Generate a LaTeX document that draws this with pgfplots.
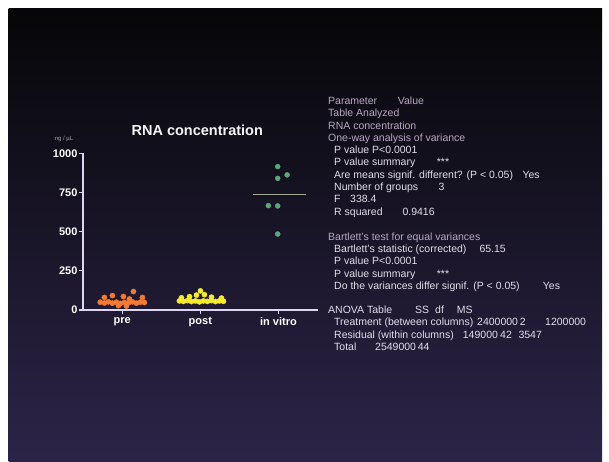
\documentclass[border=0pt]{standalone}
\usepackage{pgfplots}
\pgfplotsset{compat=1.18}
\usepackage{fontspec}
\setmainfont{Liberation Sans}
\definecolor{bgtop}{HTML}{060608}
\definecolor{bgmid}{HTML}{141222}
\definecolor{bgbot}{HTML}{2C2448}
\definecolor{axiscol}{HTML}{DCD6F2}
\definecolor{precol}{HTML}{F27A32}
\definecolor{postcol}{HTML}{F6EA2C}
\definecolor{vitrocol}{HTML}{58A878}
\definecolor{meancol}{HTML}{A0AC98}
\definecolor{hdcol}{HTML}{B8A8C4}
\definecolor{txcol}{HTML}{E2DEEA}
\newcommand{\sfont}{\fontsize{10.5}{12}\selectfont}
\begin{document}
\begin{tikzpicture}[x=1pt,y=1pt]
\fill[white] (0,0) rectangle (609,461);
\shade[top color=bgtop, middle color=bgmid, bottom color=bgbot] (8.5,0) rectangle (602,452.5);
\coordinate (A) at (83pt,151pt);
\begin{axis}[
  at={(A)}, anchor=south west, scale only axis,
  width=234.6pt, height=156.7pt,
  xmin=-0.5, xmax=2.5, ymin=0, ymax=1000,
  axis x line=bottom, axis y line=left,
  axis line style={draw=axiscol, line width=1.4pt, -},
  xtick={0,1,2}, xticklabels={pre,post,in vitro},
  ytick={0,250,500,750,1000},
  tick align=outside, major tick length=4pt,
  every tick/.style={draw=axiscol, line width=1.2pt},
  ticklabel style={font=\bfseries\fontsize{11}{13}\selectfont, text=white},
  /pgf/number format/assume math mode=true,
  /pgf/number format/1000 sep={},
  yticklabel style={xshift=2pt},
  clip=false,
]
% pre
\addplot[only marks, mark=*, mark size=2.6pt, mark options={draw=precol, fill=precol}] coordinates {
(-0.280,50) (-0.226,45) (-0.175,52) (-0.124,44) (-0.073,50) (-0.022,42)
(0.029,48) (0.081,46) (0.132,52) (0.183,44) (0.234,50) (0.285,48)
(-0.047,28) (0.055,25)
(-0.226,80) (-0.124,92) (0.017,86) (0.260,80)
(0.145,118) (0.093,70)
};
% post
\addplot[only marks, mark=*, mark size=2.6pt, mark options={draw=postcol, fill=postcol}] coordinates {
(0.733,58) (0.784,55) (0.836,60) (0.887,54) (0.938,58) (0.989,52)
(1.040,58) (1.091,55) (1.143,60) (1.194,54) (1.245,58) (1.296,56)
(0.759,78) (0.862,85) (0.951,95) (1.002,122) (1.053,98) (1.143,82) (1.271,76)
};
% in vitro
\addplot[only marks, mark=*, mark size=2.5pt, mark options={draw=vitrocol, fill=vitrocol}] coordinates {
(1.99,915) (2.11,862) (1.99,840) (1.87,666) (1.99,664) (1.99,485)
};
\addplot[meancol, line width=1pt] coordinates {(1.68,740) (2.35,740)};
\end{axis}
% title and unit
\node[font=\bfseries\fontsize{14.5}{16}\selectfont, text=white!92!gray] at (197.3,330.2) {RNA concentration};
\node[font=\fontsize{6}{7}\selectfont, text=gray!70] at (64,321.7) {ng / µL};
% statistics text
\begin{scope}[every node/.style={anchor=base west, inner sep=0, font=\sfont}]
\node[text=hdcol] at (328,356.5) {Parameter};
\node[text=hdcol] at (397.7,356.5) {Value};
\node[text=hdcol] at (328,344.2) {Table Analyzed};
\node[text=hdcol] at (328,331.9) {RNA concentration};
\node[text=hdcol] at (328,319.6) {One-way analysis of variance};
\node[text=txcol] at (334,307.3) {P value P<0.0001};
\node[text=txcol] at (334,295.0) {P value summary};
\node[text=txcol] at (436.7,295.0) {***};
\node[text=txcol] at (334,282.7) {Are means signif. different? (P < 0.05)};
\node[text=txcol] at (522.3,282.7) {Yes};
\node[text=txcol] at (334,270.4) {Number of groups};
\node[text=txcol] at (438.3,270.4) {3};
\node[text=txcol] at (334,258.1) {F};
\node[text=txcol] at (350,258.1) {338.4};
\node[text=txcol] at (334,245.8) {R squared};
\node[text=txcol] at (402.3,245.8) {0.9416};
\node[text=hdcol] at (328,220.8) {Bartlett's test for equal variances};
\node[text=txcol] at (334,208.5) {Bartlett's statistic (corrected)};
\node[text=txcol] at (479.3,208.5) {65.15};
\node[text=txcol] at (334,196.2) {P value P<0.0001};
\node[text=txcol] at (334,183.9) {P value summary};
\node[text=txcol] at (436.7,183.9) {***};
\node[text=txcol] at (334,171.6) {Do the variances differ signif. (P < 0.05)};
\node[text=txcol] at (542.7,171.6) {Yes};
\node[text=txcol] at (328,147.5) {ANOVA Table};
\node[text=txcol] at (415,147.5) {SS};
\node[text=txcol] at (435,147.5) {df};
\node[text=txcol] at (456.7,147.5) {MS};
\node[text=txcol] at (334,135.2) {Treatment (between columns)};
\node[text=txcol] at (477,135.2) {2400000\,2};
\node[text=txcol] at (545,135.2) {1200000};
\node[text=txcol] at (334,122.9) {Residual (within columns)};
\node[text=txcol] at (462.7,122.9) {149000};
\node[text=txcol] at (500,122.9) {42};
\node[text=txcol] at (518.3,122.9) {3547};
\node[text=txcol] at (334,110.6) {Total};
\node[text=txcol] at (375,110.6) {2549000\,44};
\end{scope}
\end{tikzpicture}
\end{document}
